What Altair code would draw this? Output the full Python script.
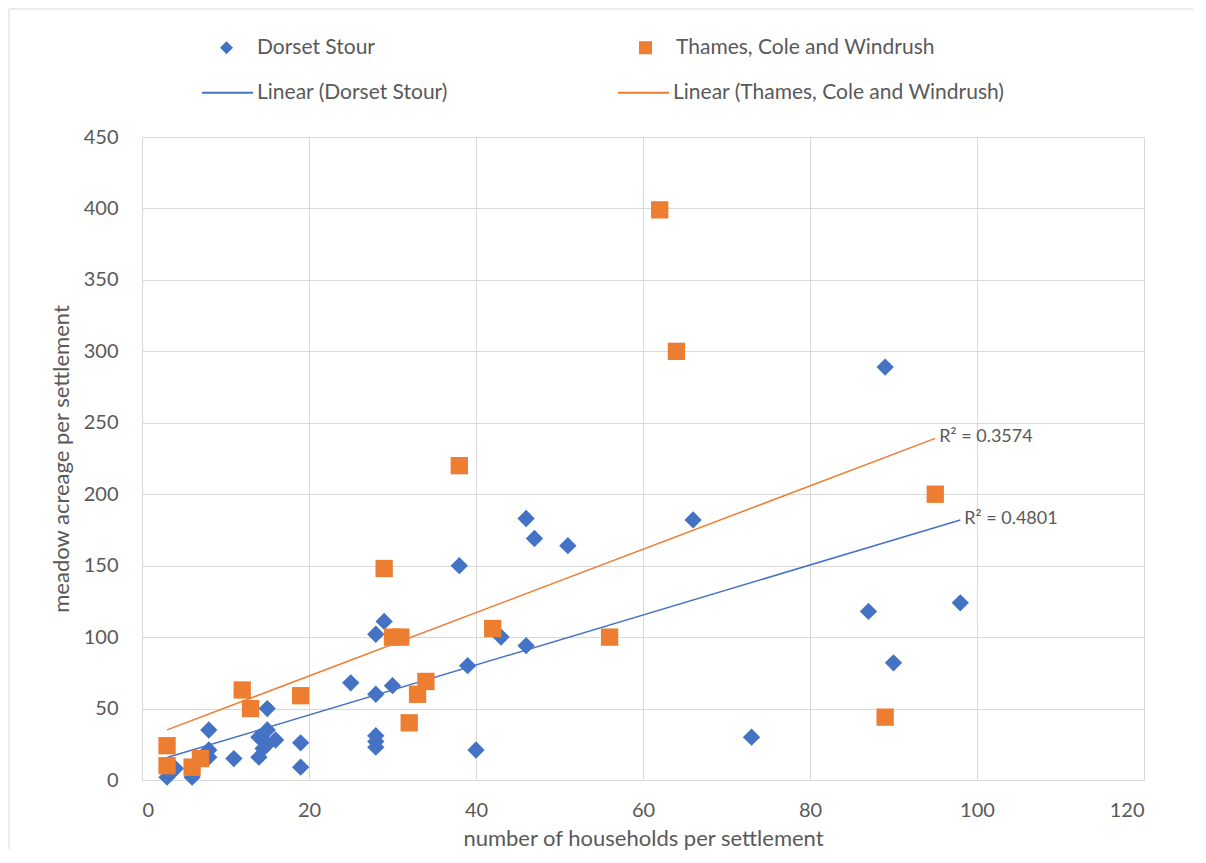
import altair as alt
import pandas as pd

FONT = "Lato"
TEXT_COLOR = "#595959"
GRID_COLOR = "#d9d9d9"

series_names = ["Dorset Stour", "Thames, Cole and Windrush"]
trend_names = ["Linear (Dorset Stour)", "Linear (Thames, Cole and Windrush)"]
series_colors = ["#4472C4", "#ED7D31"]
series_shapes = ["diamond", "square"]
r2_labels = ["R² = 0.4801", "R² = 0.3574"]

dorset_x = [3, 4, 6, 8, 8, 8, 11, 14, 14, 15, 15, 15, 16, 14.5, 19, 19, 25, 28, 28,
            28, 28, 28, 29, 30, 38, 39, 40, 43, 46, 46, 47, 51, 66, 73, 87, 89, 90, 98]
dorset_y = [2, 8, 2, 35, 21, 16, 15, 30, 16, 50, 35, 25, 28, 22, 26, 9, 68, 60, 31,
            27, 23, 102, 111, 66, 150, 80, 21, 100, 94, 183, 169, 164, 182, 30, 118, 289, 82, 124]

thames_x = [3, 3, 6, 7, 12, 13, 19, 29, 30, 31, 32, 33, 34, 38, 42, 56, 62, 64, 89, 95]
thames_y = [24, 10, 9, 15, 63, 50, 59, 148, 100, 100, 40, 60, 69, 220, 106, 100, 399, 300, 44, 200]

x_ticks = [0, 20, 40, 60, 80, 100, 120]
y_ticks = [0, 50, 100, 150, 200, 250, 300, 350, 400, 450]

df = pd.DataFrame({
    "households": dorset_x + thames_x,
    "meadow": dorset_y + thames_y,
    "series": [series_names[0]] * len(dorset_x) + [series_names[1]] * len(thames_x),
})

base = alt.Chart(df)

x_enc = alt.X(
    "households:Q",
    scale=alt.Scale(domain=[x_ticks[0], x_ticks[-1]], nice=False),
    axis=alt.Axis(values=x_ticks, title="number of households per settlement",
                  labelPadding=20, titleY=65, titleBaseline="alphabetic", domain=True),
)
y_enc = alt.Y(
    "meadow:Q",
    scale=alt.Scale(domain=[y_ticks[0], y_ticks[-1]], nice=False),
    axis=alt.Axis(values=y_ticks, title="meadow acreage per settlement",
                  labelPadding=24, titlePadding=10, domain=False),
)

point_legend = alt.Legend(
    orient="none", legendX=74, legendY=-100, direction="horizontal", columns=2,
    columnPadding=260, title=None, labelFont=FONT, labelFontSize=21, labelLimit=600,
    labelColor=TEXT_COLOR, symbolSize=170, labelOffset=20, padding=0,
)

points = base.mark_point(filled=True, size=300, opacity=1).encode(
    x=x_enc,
    y=y_enc,
    color=alt.Color("series:N", scale=alt.Scale(domain=series_names, range=series_colors),
                    legend=point_legend),
    shape=alt.Shape("series:N", scale=alt.Scale(domain=series_names, range=series_shapes),
                    legend=point_legend),
)

trend_legend = alt.Legend(
    orient="none", legendX=59, legendY=-71, direction="horizontal", columns=2,
    columnPadding=166, title=None, labelFont=FONT, labelFontSize=21, labelLimit=600,
    labelColor=TEXT_COLOR, symbolSize=2601, symbolStrokeWidth=2, labelOffset=3, padding=0,
)

regression = base.transform_regression("households", "meadow", groupby=["series"])

trend = regression.transform_calculate(
    trend="'Linear (' + datum.series + ')'"
).mark_line(strokeWidth=1.5).encode(
    x="households:Q",
    y="meadow:Q",
    color=alt.Color("trend:N", scale=alt.Scale(domain=trend_names, range=series_colors),
                    legend=trend_legend),
)

r2_expr = (f"datum.series == '{series_names[0]}' ? '{r2_labels[0]}' : '{r2_labels[1]}'")
r2_text = regression.transform_joinaggregate(
    xmax="max(households)", groupby=["series"]
).transform_filter(
    "datum.households == datum.xmax"
).transform_calculate(
    label=r2_expr
).mark_text(
    align="left", baseline="middle", dx=4, dy=-1, fontSize=18, font=FONT, color=TEXT_COLOR
).encode(
    x="households:Q",
    y="meadow:Q",
    text="label:N",
)

frame = pd.DataFrame({"a": [0]})
border_top = alt.Chart(frame).mark_rule(color=GRID_COLOR, strokeWidth=1).encode(
    x=alt.value(-133), x2=alt.value(1051), y=alt.value(-128)
)
border_left = alt.Chart(frame).mark_rule(color=GRID_COLOR, strokeWidth=1).encode(
    x=alt.value(-133), y=alt.value(-128), y2=alt.value(712)
)

chart = alt.layer(border_top, border_left, trend, points, r2_text).resolve_scale(
    color="independent", shape="independent"
).properties(
    width=1002,
    height=643,
    autosize=alt.AutoSizeParams(type="none"),
    padding={"left": 134, "top": 129, "right": 50, "bottom": 70},
).configure_view(
    strokeWidth=0
).configure_axis(
    labelFont=FONT, labelFontSize=20, labelColor=TEXT_COLOR,
    titleFont=FONT, titleFontSize=22, titleColor=TEXT_COLOR, titleFontWeight="normal",
    ticks=False, tickSize=0, gridColor=GRID_COLOR, gridWidth=1,
    domainColor=GRID_COLOR, domainWidth=1,
)

chart.save("out.html", embed_options={"renderer": "svg", "actions": False})
